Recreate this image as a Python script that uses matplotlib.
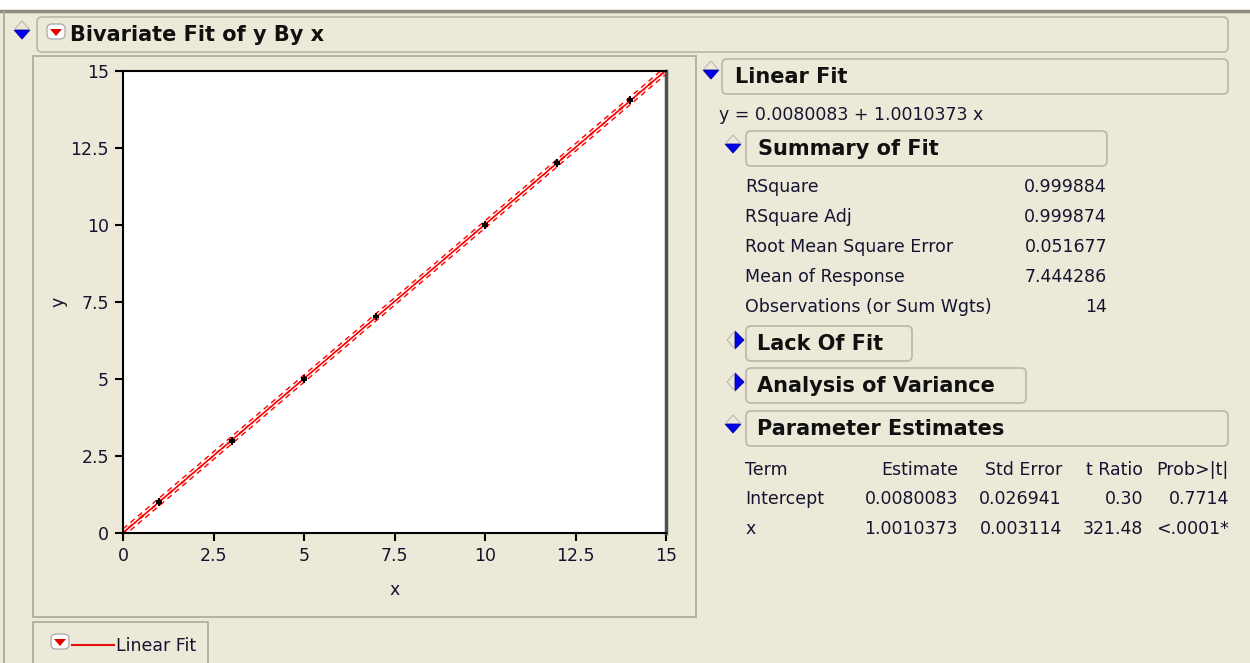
import numpy as np
from matplotlib import pyplot as plt
from matplotlib.patches import FancyBboxPatch, Polygon, Rectangle

plt.rcParams['font.family'] = ['DejaVu Sans']

# data (14 observations, each x twice)
x = np.array([1, 1, 3, 3, 5, 5, 7, 7, 10, 10, 12, 12, 14, 14])
y = np.array([1.05, 0.98, 3.02, 2.97, 5.04, 4.98, 7.06, 7.00,
              9.98, 10.04, 12.03, 11.98, 14.08, 14.04])

# reported fit
intercept = 0.0080083
slope = 1.0010373
rmse = 0.051677
t_crit = 2.179  # t(0.975, 12 df)

summary_labels = ["RSquare", "RSquare Adj", "Root Mean Square Error",
                  "Mean of Response", "Observations (or Sum Wgts)"]
summary_values = ["0.999884", "0.999874", "0.051677", "7.444286", "14"]

param_cols = ["Term", "Estimate", "Std Error", "t Ratio", "Prob>|t|"]
param_rows = [["Intercept", "0.0080083", "0.026941", "0.30", "0.7714"],
              ["x", "1.0010373", "0.003114", "321.48", "<.0001*"]]

ticks = [0, 2.5, 5, 7.5, 10, 12.5, 15]
tick_labels = ["0", "2.5", "5", "7.5", "10", "12.5", "15"]

BG = '#ECE9D8'
TXT = '#141430'
W, H = 1250, 663
FS = 12.5   # regular text
FB = 15     # bold headers

fig = plt.figure(figsize=(12.5, 6.63), dpi=100, facecolor=BG)

# overlay in pixel coords for the report frame
bg = fig.add_axes([0, 0, 1, 1])
bg.set_xlim(0, W)
bg.set_ylim(H, 0)
bg.axis('off')

bg.add_patch(Rectangle((0, 0), W, 10, facecolor='white', edgecolor='none'))
bg.plot([0, W], [10.5, 10.5], color='#8E8B80', lw=2.5)
bg.plot([4, 4], [11, H], color='#A8A598', lw=1.2)


def box(x0, y0, x1, y1):
    bg.add_patch(FancyBboxPatch((x0, y0), x1 - x0, y1 - y0,
                                boxstyle="round,pad=0,rounding_size=5",
                                facecolor=BG, edgecolor='#BDBAAD', lw=1.3))


def down_tri(cx, cy):
    bg.add_patch(Polygon([[cx - 8, cy - 2], [cx + 8, cy - 2], [cx, cy + 7]],
                         closed=True, facecolor='#0000E8', edgecolor='#0000A0', lw=0.6))
    bg.add_patch(Polygon([[cx - 8, cy - 2], [cx, cy - 11], [cx + 8, cy - 2]],
                         closed=False, facecolor='none', edgecolor='#B8B8B8', lw=0.8))


def right_tri(cx, cy):
    bg.add_patch(Polygon([[cx - 3, cy - 9], [cx - 3, cy + 9], [cx + 6, cy]],
                         closed=True, facecolor='#0000E8', edgecolor='#0000A0', lw=0.6))
    bg.add_patch(Polygon([[cx - 3, cy - 9], [cx - 11, cy], [cx - 3, cy + 9]],
                         closed=False, facecolor='none', edgecolor='#B8B8B8', lw=0.8))


def red_icon(cx, cy):
    bg.add_patch(FancyBboxPatch((cx - 9, cy - 7), 18, 15,
                                boxstyle="round,pad=0,rounding_size=5",
                                facecolor='white', edgecolor='#A0A0A0', lw=0.8))
    bg.add_patch(Polygon([[cx - 6, cy - 2], [cx + 6, cy - 2], [cx, cy + 5]],
                         closed=True, facecolor='#E00000', edgecolor='none'))


# main header
down_tri(22, 32)
box(37, 17, 1228, 52)
red_icon(56, 31)
bg.text(70, 35, "Bivariate Fit of y By x", fontsize=FB, fontweight='bold',
        va='center', ha='left', color='#101010')

# plot frame + legend box
bg.add_patch(Rectangle((33, 56), 663, 561, facecolor=BG, edgecolor='#B0AD9F', lw=1.3))
bg.add_patch(Rectangle((33, 622), 175, 50, facecolor=BG, edgecolor='#B0AD9F', lw=1.3))
red_icon(60, 641)
bg.plot([72, 114], [645, 645], color='#E81010', lw=1.5)
bg.text(116, 646, "Linear Fit", fontsize=FS, va='center', ha='left', color=TXT)

bg.text(58, 302, "y", fontsize=FS, rotation=90, va='center', ha='center', color=TXT)
bg.text(395, 590, "x", fontsize=FS, va='center', ha='center', color=TXT)

# right report
down_tri(711, 72)
box(722, 59, 1228, 94)
bg.text(735, 77, "Linear Fit", fontsize=FB, fontweight='bold', va='center', color='#101010')
bg.text(719, 115, "y = 0.0080083 + 1.0010373 x", fontsize=FS, va='center', color=TXT)

down_tri(733, 146)
box(746, 131, 1107, 166)
bg.text(758, 149, "Summary of Fit", fontsize=FB, fontweight='bold', va='center', color='#101010')
for i, (lab, val) in enumerate(zip(summary_labels, summary_values)):
    yy = 187 + 30 * i
    bg.text(745, yy, lab, fontsize=FS, va='center', color=TXT)
    bg.text(1107, yy, val, fontsize=FS, va='center', ha='right', color=TXT)

right_tri(738, 340)
box(746, 326, 912, 361)
bg.text(757, 344, "Lack Of Fit", fontsize=FB, fontweight='bold', va='center', color='#101010')

right_tri(738, 382)
box(746, 368, 1026, 403)
bg.text(757, 386, "Analysis of Variance", fontsize=FB, fontweight='bold', va='center', color='#101010')

down_tri(733, 426)
box(746, 411, 1228, 446)
bg.text(757, 429, "Parameter Estimates", fontsize=FB, fontweight='bold', va='center', color='#101010')

col_x = [745, 958, 1062, 1143, 1229]
for j, name in enumerate(param_cols):
    bg.text(col_x[j], 470, name, fontsize=FS, va='center',
            ha='left' if j == 0 else 'right', color=TXT)
for i, row in enumerate(param_rows):
    for j, val in enumerate(row):
        bg.text(col_x[j], 499 + 30 * i, val, fontsize=FS, va='center',
                ha='left' if j == 0 else 'right', color=TXT)

# scatter plot
ax = fig.add_axes([123 / W, (H - 533) / H, 543 / W, 462 / H])
ax.set_facecolor('white')
xs = np.linspace(0, 15, 200)
fit = intercept + slope * xs
n = len(x)
sxx = np.sum((x - x.mean()) ** 2)
se_fit = rmse * np.sqrt(1 / n + (xs - x.mean()) ** 2 / sxx)
se_ind = rmse * np.sqrt(1 + 1 / n + (xs - x.mean()) ** 2 / sxx)

ax.fill_between(xs, fit - t_crit * se_fit, fit + t_crit * se_fit,
                facecolor='none', edgecolor='#FF3030', hatch='oo', lw=0)
ax.plot(xs, fit - t_crit * se_ind, color='red', lw=1, ls=(0, (4, 3)))
ax.plot(xs, fit + t_crit * se_ind, color='red', lw=1, ls=(0, (4, 3)))
ax.plot(xs, fit, color='red', lw=1.2)
ax.plot(x, y, '+', color='black', ms=4, mew=1.5)

ax.set_xlim(0, 15)
ax.set_ylim(0, 15)
ax.set_xticks(ticks)
ax.set_xticklabels(tick_labels)
ax.set_yticks(ticks)
ax.set_yticklabels(tick_labels)
ax.tick_params(direction='out', length=6, width=1.5, labelsize=FS,
               labelcolor=TXT, pad=4)
for s in ['left', 'bottom', 'top']:
    ax.spines[s].set_linewidth(1.5)
ax.spines['right'].set_linewidth(2.5)
ax.spines['right'].set_color('#505050')

fig.savefig('out.png', dpi=100, facecolor=BG)
